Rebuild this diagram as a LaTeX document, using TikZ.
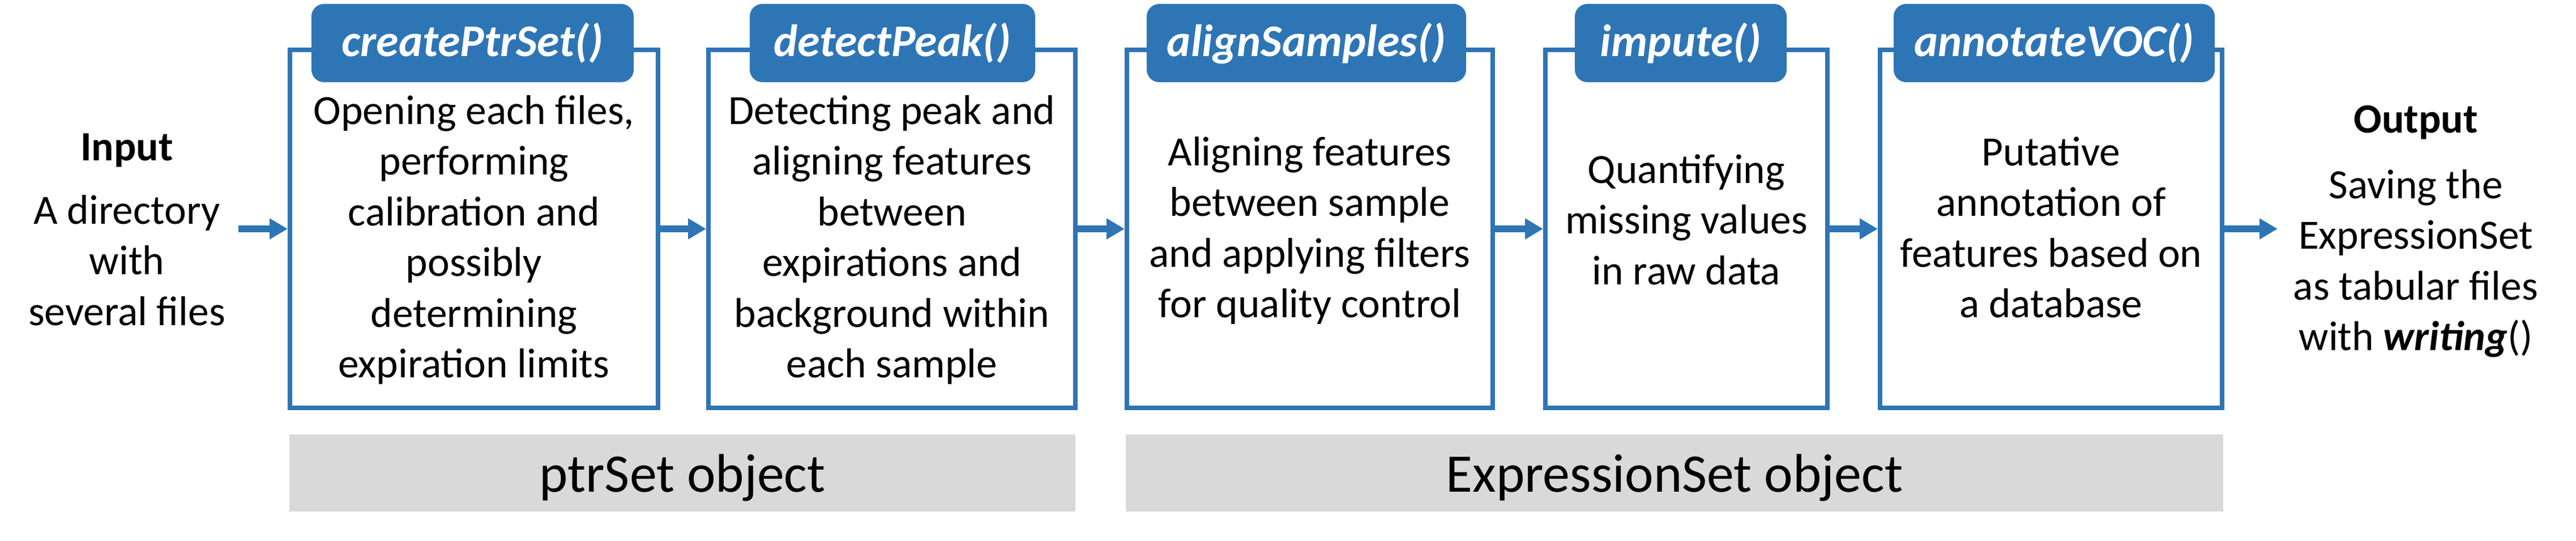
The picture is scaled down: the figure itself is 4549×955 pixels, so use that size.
\documentclass[tikz,border=0pt]{standalone}
\usepackage{fontspec}
\setmainfont{Carlito}
\usetikzlibrary{arrows.meta}
\definecolor{blueA}{RGB}{46,117,182}
\definecolor{grayband}{RGB}{217,217,217}
\newcommand{\mlines}[1]{\begin{tabular}[t]{@{}c@{}}#1\end{tabular}}
\begin{document}
\begin{tikzpicture}[x=1pt,y=-1pt,
  procbox/.style={draw=blueA, line width=8pt, fill=white, inner sep=0pt},
  pill/.style={fill=blueA, rounded corners=22pt, text=white,
    font=\fontsize{80}{96}\selectfont\bfseries\itshape,
    minimum height=138pt, inner sep=0pt, text height=60pt, text depth=12pt},
  bodytext/.style={font=\fontsize{73.5}{89.5}\selectfont, anchor=base, inner sep=0pt},
  headtext/.style={font=\fontsize{73.5}{89.5}\selectfont\bfseries, anchor=base, inner sep=0pt},
  band/.style={fill=grayband, minimum height=136pt, inner sep=0pt,
    font=\fontsize{96}{115}\selectfont, text height=70pt, text depth=4pt},
  flow/.style={draw=blueA, line width=12pt, -{Triangle[length=32pt,width=35pt]}}
]
\useasboundingbox (0,0) rectangle (4549,955);

% process boxes
\node[procbox, minimum width=650pt, minimum height=632pt] (b1) at (837,404) {};
\node[procbox, minimum width=648pt, minimum height=632pt] (b2) at (1575,404) {};
\node[procbox, minimum width=646pt, minimum height=632pt] (b3) at (2313,404) {};
\node[procbox, minimum width=498pt, minimum height=632pt] (b4) at (2978,404) {};
\node[procbox, minimum width=604pt, minimum height=632pt] (b5) at (3622,404) {};

% title pills
\node[pill, minimum width=569pt] (p1) at (834.5,76) {createPtrSet()};
\node[pill, minimum width=504pt] (p2) at (1576,76) {detectPeak()};
\node[pill, minimum width=564pt] (p3) at (2307,76) {alignSamples()};
\node[pill, minimum width=374pt] (p4) at (2968,76) {impute()};
\node[pill, minimum width=567pt] (p5) at (3627.5,76) {annotateVOC()};

% box texts
\node[bodytext] (t1) at (837,219) {\mlines{Opening each files,\\performing\\calibration and\\possibly\\determining\\expiration limits}};
\node[bodytext] (t2) at (1575,219) {\mlines{Detecting peak and\\aligning features\\between\\expirations and\\background within\\each sample}};
\node[bodytext] (t3) at (2313,292) {\mlines{Aligning features\\between sample\\and applying filters\\for quality control}};
\node[bodytext] (t4) at (2978,323) {\mlines{Quantifying\\missing values\\in raw data}};
\node[bodytext] (t5) at (3622,292) {\mlines{Putative\\annotation of\\features based on\\a database}};

% input / output
\node[headtext] (inh) at (224,283) {Input};
\node[bodytext] (inb) at (224,395) {\mlines{A directory\\with\\several files}};
\node[headtext] (outh) at (4266,234) {Output};
\node[bodytext] (outb) at (4266,350) {\mlines{Saving the\\ExpressionSet\\as tabular files\\with \textbf{\textit{writing}}()}};

% object bands
\node[band, minimum width=1388pt] (g1) at (1205,835) {ptrSet object};
\node[band, minimum width=1938pt] (g2) at (2957,835) {ExpressionSet object};

% connectors
\coordinate (instart) at (421,404);
\coordinate (outend) at (4022,404);
\draw[flow] (instart) -- (b1.west);
\draw[flow] (b1.east) -- (b2.west);
\draw[flow] (b2.east) -- (b3.west);
\draw[flow] (b3.east) -- (b4.west);
\draw[flow] (b4.east) -- (b5.west);
\draw[flow] (b5.east) -- (outend);
\end{tikzpicture}
\end{document}
